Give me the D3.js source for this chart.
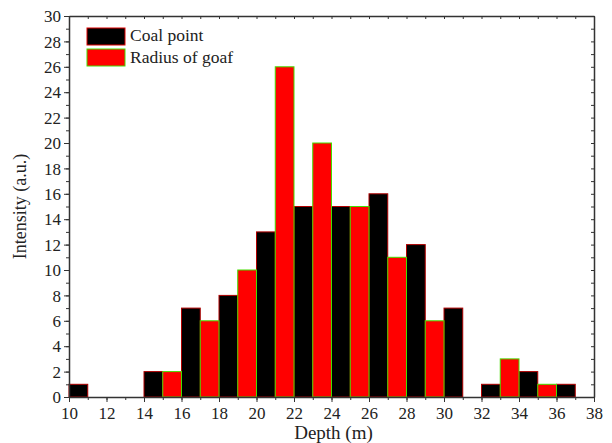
<!DOCTYPE html>
<html>
<head>
<meta charset="utf-8">
<script src="https://cdn.jsdelivr.net/npm/d3@7"></script>
<style>
  body { margin: 0; background: #fff; }
  svg text { font-family: "Liberation Serif", "Times New Roman", serif !important; fill: #222; }
  .axis path, .axis line { stroke: #333; }
</style>
</head>
<body>
<div id="chart"></div>
<script>
// data: bins of width 1, start value
var coalStart = [10, 14, 16, 18, 20, 22, 24, 26, 28, 30, 32, 34, 36];
var coalValue = [1, 2, 7, 8, 13, 15, 15, 16, 12, 7, 1, 2, 1];
var goafStart = [15, 17, 19, 21, 23, 25, 27, 29, 33, 35];
var goafValue = [2, 6, 10, 26, 20, 15, 11, 6, 3, 1];
var xTicks = [10, 12, 14, 16, 18, 20, 22, 24, 26, 28, 30, 32, 34, 36, 38];
var yTicks = [0, 2, 4, 6, 8, 10, 12, 14, 16, 18, 20, 22, 24, 26, 28, 30];
var seriesNames = ["Coal point", "Radius of goaf"];

// setup dimensions
var W = 612, H = 443;
var margin = {top: 16, right: 18, bottom: 46, left: 69},
  width = W - margin.left - margin.right,
  height = H - margin.top - margin.bottom;

var svg = d3.select("#chart").append("svg")
  .attr("width", W)
  .attr("height", H)
.append("g")
  .attr("transform", "translate(" + margin.left + "," + margin.top + ")");

// scales
var x = d3.scaleLinear().domain([10, 38]).range([0, width]);
var y = d3.scaleLinear().domain([0, 30]).range([height, 0]);

var coal = coalStart.map(function(d, i) { return {x0: d, v: coalValue[i]}; });
var goaf = goafStart.map(function(d, i) { return {x0: d, v: goafValue[i]}; });

// bars
function drawBars(data, fill, stroke) {
  svg.append("g").selectAll("rect")
    .data(data)
  .enter().append("rect")
    .attr("x", function(d) { return x(d.x0); })
    .attr("y", function(d) { return y(d.v); })
    .attr("width", function(d) { return x(d.x0 + 1) - x(d.x0); })
    .attr("height", function(d) { return y(0) - y(d.v); })
    .attr("fill", fill)
    .attr("stroke", stroke)
    .attr("stroke-width", 1);
}
drawBars(coal, "#000", "#b00000");
drawBars(goaf, "#ff0000", "#44dd00");

// minor ticks
var xMinor = d3.range(10, 39, 1);
var yMinor = d3.range(0, 31, 1);

// bottom axis
svg.append("g")
  .attr("class", "axis")
  .attr("transform", "translate(0," + height + ")")
  .call(d3.axisBottom(x).tickValues(xMinor).tickSize(3).tickFormat(""))
  .call(function(g) { g.select(".domain").remove(); });
svg.append("g")
  .attr("class", "axis")
  .attr("transform", "translate(0," + height + ")")
  .call(d3.axisBottom(x).tickValues(xTicks).tickSize(5).tickSizeOuter(0).tickFormat(d3.format("d")))
  .call(function(g) {
    g.select(".domain").attr("stroke-width", 1.5);
    g.selectAll("text").style("font-size", "17px").attr("y", 8).attr("dy", "0.8em");
  });

// left axis
svg.append("g")
  .attr("class", "axis")
  .call(d3.axisLeft(y).tickValues(yMinor).tickSize(3).tickFormat(""))
  .call(function(g) { g.select(".domain").remove(); });
svg.append("g")
  .attr("class", "axis")
  .call(d3.axisLeft(y).tickValues(yTicks).tickSize(5).tickSizeOuter(0).tickFormat(d3.format("d")))
  .call(function(g) {
    g.select(".domain").attr("stroke-width", 1.5);
    g.selectAll("text").style("font-size", "17px").attr("x", -8).attr("dy", "0.34em");
  });

// top axis, ticks inward
svg.append("g")
  .attr("class", "axis")
  .call(d3.axisBottom(x).tickValues(xMinor).tickSize(3).tickSizeOuter(0).tickFormat(""))
  .call(function(g) { g.select(".domain").attr("stroke-width", 1.5); });

// right axis, ticks inward
svg.append("g")
  .attr("class", "axis")
  .attr("transform", "translate(" + width + ",0)")
  .call(d3.axisLeft(y).tickValues(yMinor).tickSize(3).tickSizeOuter(0).tickFormat(""))
  .call(function(g) { g.select(".domain").attr("stroke-width", 1.5); });

// axis titles
svg.append("text")
  .attr("x", width / 2 + 2)
  .attr("y", height + 42)
  .attr("text-anchor", "middle")
  .style("font-size", "19px")
  .text("Depth (m)");
svg.append("text")
  .attr("transform", "translate(" + (-43) + "," + (height / 2) + ") rotate(-90)")
  .attr("text-anchor", "middle")
  .style("font-size", "18px")
  .text("Intensity (a.u.)");

// legend
var legend = svg.append("g")
  .attr("transform", "translate(18,12)");
var legFill = ["#000", "#ff0000"], legStroke = ["#e00000", "#44dd00"];
seriesNames.forEach(function(name, i) {
  legend.append("rect")
    .attr("x", 0)
    .attr("y", i * 21)
    .attr("width", 38)
    .attr("height", 17)
    .attr("fill", legFill[i])
    .attr("stroke", legStroke[i])
    .attr("stroke-width", 1);
  legend.append("text")
    .attr("x", 43)
    .attr("y", i * 22 + 13)
    .style("font-size", "17.5px")
    .text(name);
});
</script>
</body>
</html>
